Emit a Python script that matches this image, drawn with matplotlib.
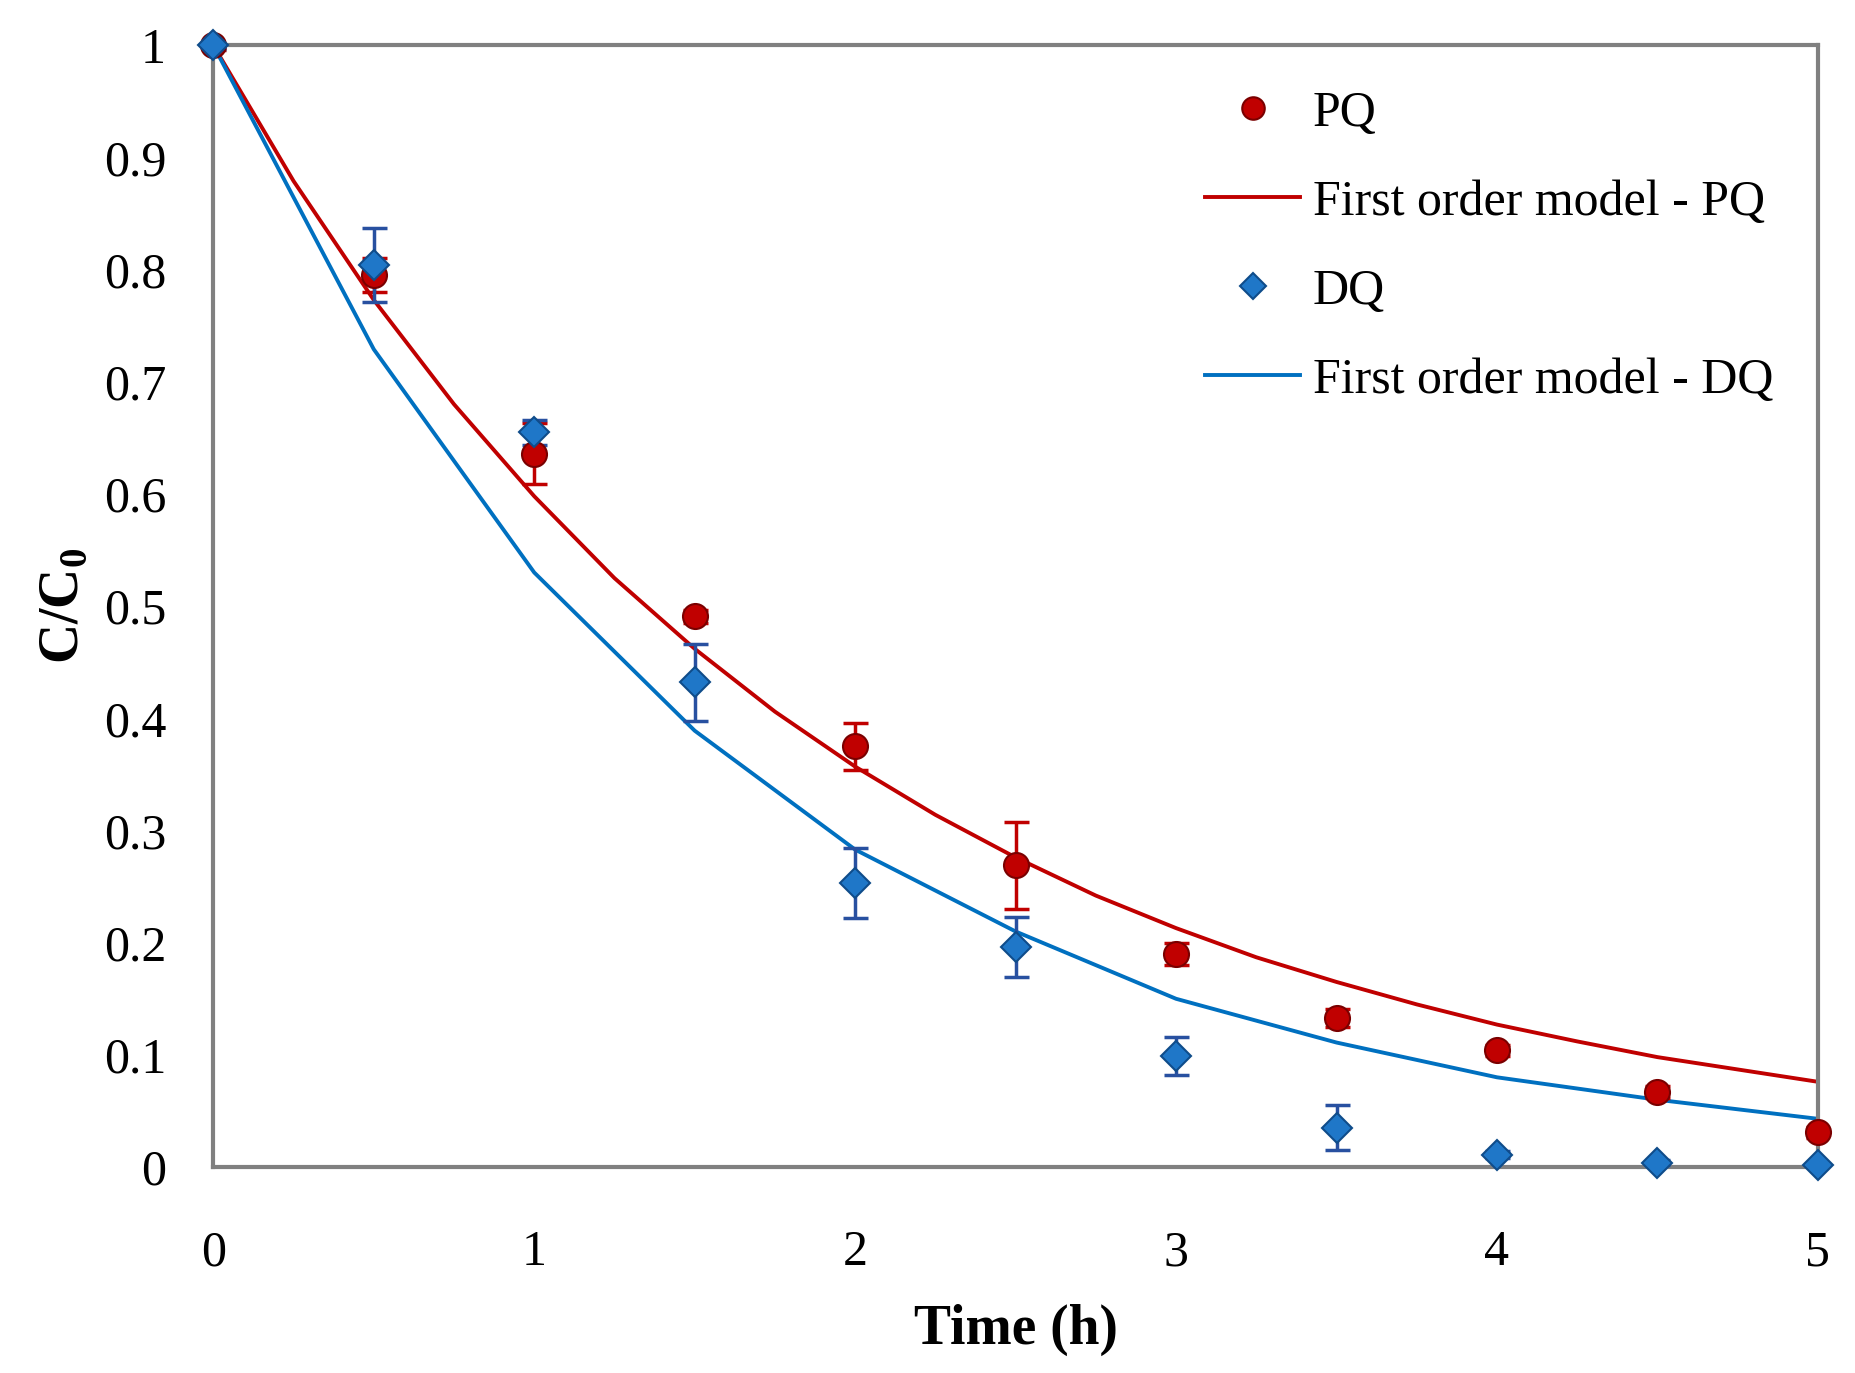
import matplotlib
matplotlib.use('Agg')
import matplotlib.pyplot as plt

plt.rcParams['font.family'] = ['Liberation Serif', 'DejaVu Serif']
plt.rcParams['mathtext.fontset'] = 'custom'
plt.rcParams['mathtext.rm'] = 'Liberation Serif'
plt.rcParams['mathtext.bf'] = 'Liberation Serif:bold'

# measured data
time = [0, 0.5, 1, 1.5, 2, 2.5, 3, 3.5, 4, 4.5, 5]
pq = [1.0, 0.795, 0.636, 0.491, 0.375, 0.269, 0.190, 0.133, 0.104, 0.067, 0.031]
pq_err = [0.004, 0.015, 0.027, 0.006, 0.021, 0.039, 0.010, 0.008, 0.005, 0.005, 0.005]
dq = [1.0, 0.804, 0.655, 0.432, 0.253, 0.196, 0.099, 0.035, 0.011, 0.004, 0.002]
dq_err = [0.003, 0.033, 0.011, 0.034, 0.031, 0.027, 0.017, 0.020, 0.003, 0.002, 0.002]

# model curves
t_model_pq = [0, 0.25, 0.5, 0.75, 1, 1.25, 1.5, 1.75, 2, 2.25, 2.5, 2.75,
              3, 3.25, 3.5, 3.75, 4, 4.25, 4.5, 4.75, 5]
pq_model = [1.0, 0.879, 0.773, 0.680, 0.598, 0.525, 0.462, 0.406, 0.357, 0.314,
            0.276, 0.242, 0.213, 0.187, 0.165, 0.145, 0.127, 0.112, 0.098, 0.087, 0.076]
t_model_dq = [0, 0.5, 1, 1.5, 2, 2.5, 3, 3.5, 4, 4.5, 5]
dq_model = [1.0, 0.729, 0.530, 0.389, 0.283, 0.210, 0.150, 0.111, 0.080, 0.060, 0.043]

red = '#C00000'
blue = '#0070C0'

fig = plt.figure(figsize=(18.55, 13.73), dpi=100)
ax = fig.add_axes([0.115, 0.15, 0.865, 0.817])

ax.plot(t_model_pq, pq_model, color=red, lw=2.8, label='First order model - PQ', zorder=2)
ax.plot(t_model_dq, dq_model, color=blue, lw=2.8, label='First order model - DQ', zorder=2)

ax.errorbar(time, pq, yerr=pq_err, fmt='none', ecolor=red, elinewidth=2.5,
            capsize=9, capthick=2.5, zorder=3)
ax.errorbar(time, dq, yerr=dq_err, fmt='none', ecolor='#2850A0', elinewidth=2.5,
            capsize=9, capthick=2.5, zorder=3)
ax.plot(time, pq, 'o', color='#C00000', mec='#7A0000', mew=1.5, ms=18,
        label='PQ', zorder=4, clip_on=False)
ax.plot(time, dq, 'D', color='#1F77C8', mec='#0F4C8A', mew=1.5, ms=15,
        label='DQ', zorder=5, clip_on=False)

ax.set_xlim(0, 5)
ax.set_ylim(0, 1)
ax.set_xticks([0, 1, 2, 3, 4, 5])
ax.set_yticks([0, 0.1, 0.2, 0.3, 0.4, 0.5, 0.6, 0.7, 0.8, 0.9, 1])
ax.set_yticklabels(['0', '0.1', '0.2', '0.3', '0.4', '0.5', '0.6', '0.7', '0.8', '0.9', '1'])
ax.tick_params(length=0, labelsize=36)
ax.tick_params(axis='y', pad=34)
ax.tick_params(axis='x', pad=45)
for s in ax.spines.values():
    s.set_color('#808080')
    s.set_linewidth(3)

ax.set_xlabel('Time (h)', fontsize=40, fontweight='bold', labelpad=20)
ax.set_ylabel(r'C/C$_\mathbf{0}$', fontsize=40, fontweight='bold', labelpad=10)

handles, labels = ax.get_legend_handles_labels()
order = [2, 0, 3, 1]
ax.legend([handles[i] for i in order], [labels[i] for i in order],
          loc='upper right', bbox_to_anchor=(1.0, 1.0), frameon=False,
          fontsize=36, handlelength=1.9, handletextpad=0.25, labelspacing=0.85,
          markerscale=0.9)

fig.savefig('out.png', dpi=100, facecolor='white')
